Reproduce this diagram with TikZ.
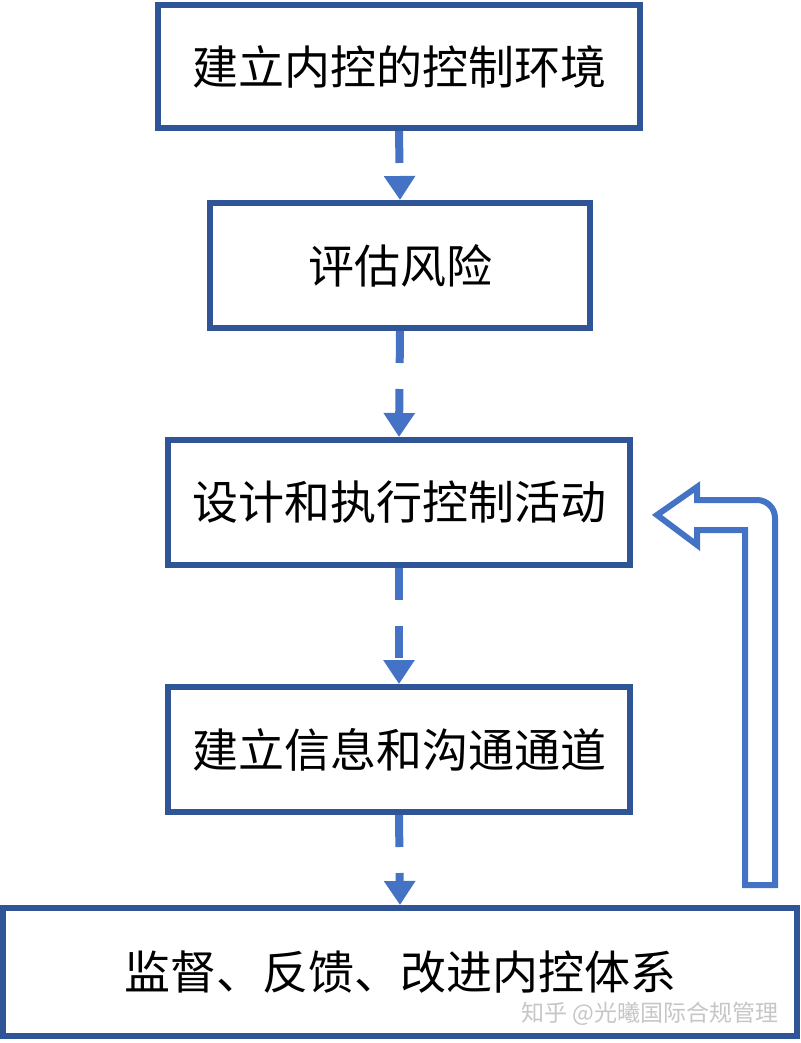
\documentclass[tikz,border=0pt]{standalone}
\usepackage{fontspec}
\setmainfont{Noto Sans CJK SC}
\usetikzlibrary{arrows.meta}
\definecolor{bd}{HTML}{2F5597}
\definecolor{ac}{HTML}{4472C4}
\begin{document}
\begin{tikzpicture}[x=1pt,y=-1pt,
  box/.style={draw=bd,line width=6pt,fill=white,inner sep=0pt,font=\fontsize{46}{50}\selectfont},
  con/.style={draw=ac,line width=8pt,dash pattern=on 32pt off 26pt,-{Triangle[length=24pt,width=30pt]}}]
\useasboundingbox (0,0) rectangle (800,1043);
\node[box,minimum width=482pt,minimum height=123pt] (a) at (399,66.5) {建立内控的控制环境};
\node[box,minimum width=380pt,minimum height=125pt] (b) at (400,265.5) {评估风险};
\node[box,minimum width=462pt,minimum height=125pt] (c) at (399,502.5) {设计和执行控制活动};
\node[box,minimum width=462pt,minimum height=125pt] (d) at (399,749.5) {建立信息和沟通通道};
\node[box,minimum width=794pt,minimum height=128pt] (e) at (400,972) {监督、反馈、改进内控体系};
\draw[con] (a.south) -- (b.north);
\draw[con] (b.south) -- (c.north);
\draw[con] (c.south) -- (d.north);
\draw[con] (d.south) -- (e.north);
\coordinate (tip) at (657,515);
\draw[ac,line width=6pt,line join=miter] (745,885) -- (745,530) -- (697,530) -- (697,545) -- (tip) -- (697,487) -- (697,500) -- (757,500) arc[start angle=90,end angle=0,radius=18pt] -- (775,885) -- cycle;
\node[text=gray!45,font=\fontsize{23}{26}\selectfont,anchor=east] (w) at (782,1014) {知乎 @光曦国际合规管理};
\end{tikzpicture}
\end{document}
